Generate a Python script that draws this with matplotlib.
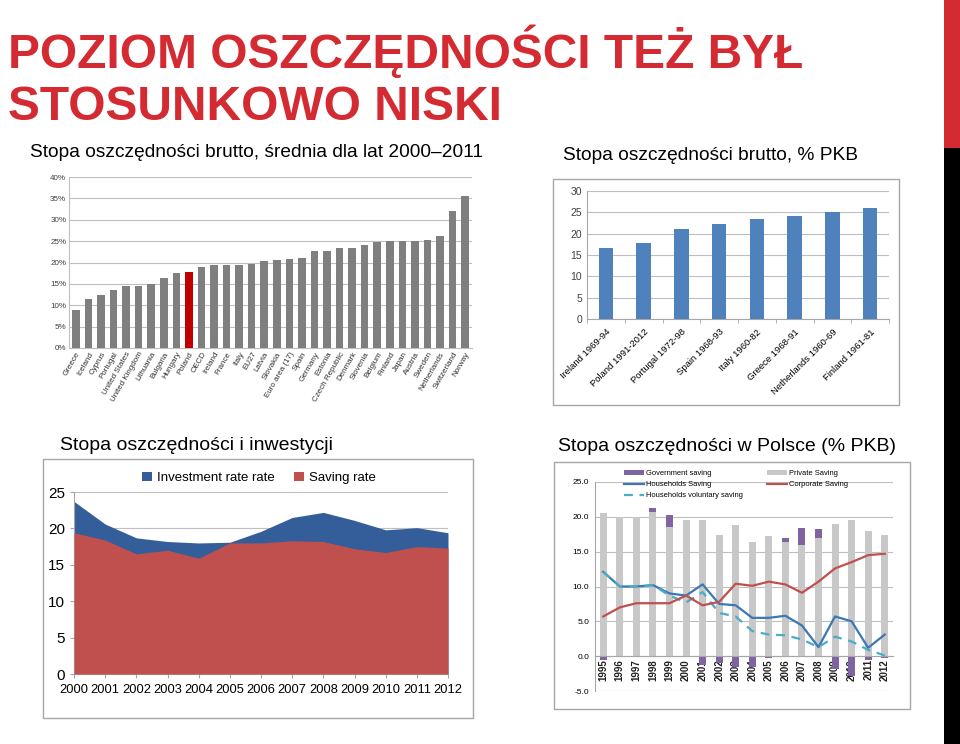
import matplotlib
matplotlib.use("Agg")
import matplotlib.pyplot as plt
import numpy as np
from matplotlib.patches import Rectangle

W, H = 960, 744

def box(x0, y0, x1, y1):
    # pixel box (top-left origin) -> figure coords
    return [x0/W, 1-y1/H, (x1-x0)/W, (y1-y0)/H]

NARROW = ['Liberation Sans Narrow', 'Liberation Sans', 'DejaVu Sans']
SANS = ['Liberation Sans', 'DejaVu Sans']
plt.rcParams['font.family'] = SANS

#=========================== DATA ===========================#
countries = ['Greece', 'Iceland', 'Cyprus', 'Portugal', 'United States', 'United Kingdom',
             'Lithuania', 'Bulgaria', 'Hungary', 'Poland', 'OECD', 'Ireland', 'France', 'Italy',
             'EU27', 'Latvia', 'Slovakia', 'Euro area (17)', 'Spain', 'Germany', 'Estonia',
             'Czech Republic', 'Denmark', 'Slovenia', 'Belgium', 'Finland', 'Japan', 'Austria',
             'Sweden', 'Netherlands', 'Switzerland', 'Norway']
saving_avg = [8.9, 11.5, 12.4, 13.5, 14.4, 14.6, 15.0, 16.4, 17.5, 17.8, 18.9, 19.3, 19.4, 19.4,
              19.7, 20.4, 20.6, 20.9, 21.0, 22.6, 22.7, 23.4, 23.5, 24.2, 24.8, 25.0, 25.0, 25.0,
              25.2, 26.2, 32.1, 35.6]

periods = ['Ireland 1969-94', 'Poland 1991-2012', 'Portugal 1972-98', 'Spain 1968-93',
           'Italy 1960-82', 'Greece 1968-91', 'Netherlands 1960-69', 'Finland 1961-81']
period_saving = [16.6, 17.8, 21.1, 22.2, 23.5, 24.2, 25.1, 25.9]

years_a = list(range(2000, 2013))
investment = [23.7, 20.6, 18.7, 18.2, 18.0, 18.1, 19.6, 21.5, 22.2, 21.1, 19.8, 20.1, 19.4]
saving = [19.4, 18.4, 16.5, 17.0, 15.9, 18.0, 18.0, 18.3, 18.2, 17.2, 16.7, 17.5, 17.3]

years_b = [str(y) for y in range(1995, 2013)]
private = [20.6, 20.0, 20.0, 20.7, 18.5, 19.5, 19.6, 17.4, 18.8, 16.4, 17.3, 16.4, 15.9, 16.9,
           19.0, 19.5, 18.0, 17.4]
government = [-0.5, 0.0, 0.0, 0.6, 1.7, 0.0, -1.2, -1.0, -1.6, -1.5, -0.2, 0.6, 2.5, 1.4,
              -1.9, -2.8, -0.6, -0.3]
households = [12.1, 10.0, 10.0, 10.2, 9.0, 8.7, 10.3, 7.5, 7.3, 5.5, 5.5, 5.8, 4.4, 1.3,
              5.7, 5.0, 1.2, 3.1]
households_vol = [12.1, 10.0, 10.0, 10.2, 8.7, 7.7, 9.2, 6.2, 5.7, 3.6, 3.1, 3.0, 2.4, 1.3,
                  2.8, 2.1, 0.9, 0.1]
corporate = [5.7, 7.0, 7.6, 7.6, 7.6, 8.7, 7.3, 7.8, 10.4, 10.1, 10.7, 10.3, 9.1, 10.7,
             12.6, 13.5, 14.5, 14.7]

#=========================== FIGURE ===========================#
fig = plt.figure(figsize=(9.6, 7.44), dpi=100)

RED = '#D42A32'
fig.patches.append(Rectangle((944/W, 1-148/H), 16/W, 148/H, transform=fig.transFigure,
                             facecolor=RED, edgecolor='none'))
fig.patches.append(Rectangle((944/W, 0), 16/W, 1-148/H, transform=fig.transFigure,
                             facecolor='black', edgecolor='none'))

fig.text(8/W, 1-68/H, 'POZIOM OSZCZĘDNOŚCI TEŻ BYŁ', family=NARROW, weight='bold',
         fontsize=34.5, color=RED, va='baseline')
fig.text(8/W, 1-120/H, 'STOSUNKOWO NISKI', family=NARROW, weight='bold',
         fontsize=34.5, color=RED, va='baseline')

fig.text(30/W, 1-157/H, 'Stopa oszczędności brutto, średnia dla lat 2000–2011', family=NARROW,
         fontsize=13.8, va='baseline')
fig.text(563/W, 1-160/H, 'Stopa oszczędności brutto, % PKB', family=NARROW,
         fontsize=13.8, va='baseline')
fig.text(60/W, 1-450/H, 'Stopa oszczędności i inwestycji', fontsize=14, va='baseline')
fig.text(558/W, 1-451/H, 'Stopa oszczędności w Polsce (% PKB)', fontsize=14, va='baseline')

# frames
for (x0, y0, x1, y1) in [(553, 179, 899, 405), (43, 459, 473, 718), (554, 462, 910, 709)]:
    fig.patches.append(Rectangle((x0/W, 1-y1/H), (x1-x0)/W, (y1-y0)/H, transform=fig.transFigure,
                                 fill=False, edgecolor='#A6A6A6', lw=1))

GRID = '#BFBFBF'

#--- chart 1: average saving rate
ax1 = fig.add_axes(box(69, 177, 472, 348))
x1 = np.arange(len(countries))
cols = ['#C00000' if c == 'Poland' else '#7F7F7F' for c in countries]
ax1.bar(x1, saving_avg, width=0.6, color=cols, zorder=3)
ax1.set_xlim(-0.55, len(countries) - 0.45)
ax1.set_ylim(0, 40)
ax1.set_yticks(np.arange(0, 41, 5))
ax1.set_yticklabels(['%d%%' % v for v in range(0, 41, 5)], fontsize=5.8, color='#404040')
ax1.set_xticks(x1)
ax1.set_xticklabels(countries, rotation=60, ha='right', rotation_mode='anchor',
                    fontsize=5.8, color='#303030')
ax1.grid(axis='y', color=GRID, lw=0.8, zorder=0)
for s in ['top', 'right']:
    ax1.spines[s].set_visible(False)
ax1.spines['left'].set_color(GRID)
ax1.spines['bottom'].set_color(GRID)
ax1.tick_params(length=0, pad=2)

#--- chart 2: saving before take-off
ax2 = fig.add_axes(box(587, 191, 889, 319))
x2 = np.arange(len(periods))
ax2.bar(x2, period_saving, width=0.39, color='#4F81BD', zorder=3)
ax2.set_xlim(-0.5, len(periods) - 0.5)
ax2.set_ylim(0, 30)
ax2.set_yticks(np.arange(0, 31, 5))
ax2.tick_params(axis='y', labelsize=7.5, length=0, labelcolor='#404040')
ax2.set_xticks(x2)
ax2.set_xticklabels(periods, rotation=45, ha='right', rotation_mode='anchor', fontsize=6.8)
ax2.set_xticks(np.arange(-0.5, len(periods), 1), minor=True)
ax2.tick_params(axis='x', which='major', length=0, pad=6)
ax2.tick_params(axis='x', which='minor', length=3, color='#A6A6A6')
ax2.grid(axis='y', color=GRID, lw=0.8, zorder=0)
for s in ['top', 'right']:
    ax2.spines[s].set_visible(False)
ax2.spines['left'].set_color('#A6A6A6')
ax2.spines['bottom'].set_color('#A6A6A6')

#--- chart 3: saving and investment
ax3 = fig.add_axes(box(74, 492, 448, 674))
ax3.fill_between(years_a, investment, color='#345E9A', label='Investment rate rate', zorder=2, lw=0)
ax3.fill_between(years_a, saving, color='#C0504D', label='Saving rate', zorder=3, lw=0)
ax3.set_xlim(2000, 2012)
ax3.set_ylim(0, 25)
ax3.set_yticks(np.arange(0, 26, 5))
ax3.set_xticks(years_a)
ax3.tick_params(axis='y', labelsize=11, length=3, color='#A6A6A6')
ax3.tick_params(axis='x', labelsize=9.3, length=3, color='#A6A6A6', pad=4)
ax3.grid(axis='y', color=GRID, lw=0.8, zorder=1)
for s in ['top', 'right']:
    ax3.spines[s].set_visible(False)
ax3.spines['left'].set_color('#A6A6A6')
ax3.spines['bottom'].set_color('#A6A6A6')
ax3.legend(loc='center', bbox_to_anchor=(259/W, 1-478/H), bbox_transform=fig.transFigure,
           ncol=2, frameon=False, fontsize=9.5, handlelength=0.7, handleheight=0.7,
           handletextpad=0.4, columnspacing=1.5)

#--- chart 4: saving in Poland
ax4 = fig.add_axes(box(595, 482, 893, 691))
ax4.spines['bottom'].set_position(('data', 0))
x4 = np.arange(len(years_b))
priv = np.array(private)
gov = np.array(government)
b_priv = ax4.bar(x4, priv, width=0.42, color='#C8C8C8', zorder=2, label='Private Saving')
b_gov = ax4.bar(x4, gov, width=0.42, bottom=np.where(gov > 0, priv, 0), color='#8064A2',
                zorder=2, label='Government saving')
l_hh, = ax4.plot(x4, households, color='#3C78B4', lw=1.6, zorder=4, label='Households Saving')
l_hv, = ax4.plot(x4, households_vol, color='#4BACC6', lw=1.6, ls=(0, (4, 3)), zorder=4,
                 label='Households voluntary saving')
l_co, = ax4.plot(x4, corporate, color='#C0504D', lw=1.6, zorder=4, label='Corporate Saving')
ax4.set_xlim(-0.5, len(years_b) - 0.5)
ax4.set_ylim(-5, 25)
ax4.set_yticks(np.arange(-5, 26, 5))
ax4.set_yticklabels(['%.1f' % v for v in np.arange(-5, 26, 5)])
ax4.tick_params(axis='y', labelsize=6, length=0, pad=4)
ax4.set_xticks(x4)
ax4.set_xticklabels(years_b, rotation=90, fontsize=7, weight='bold', va='top', color='#202020')
ax4.tick_params(axis='x', length=0, pad=2)
ax4.grid(axis='y', color=GRID, lw=0.8, zorder=0)
ax4.spines['bottom'].set_color('#A6A6A6')
ax4.spines['left'].set_color('#A6A6A6')
for s in ['top', 'right']:
    ax4.spines[s].set_visible(False)
ax4.legend([b_gov, l_hh, l_hv, b_priv, l_co],
           ['Government saving', 'Households Saving', 'Households voluntary saving',
            'Private Saving', 'Corporate Saving'],
           loc='upper left', bbox_to_anchor=(624/W, 1-470/H), bbox_transform=fig.transFigure,
           ncol=2, frameon=False, fontsize=5.4, handlelength=2.7, handleheight=0.6,
           handletextpad=0.3, columnspacing=3.1, labelspacing=0.55, borderpad=0,
           borderaxespad=0)

fig.savefig('out.png', dpi=100)
